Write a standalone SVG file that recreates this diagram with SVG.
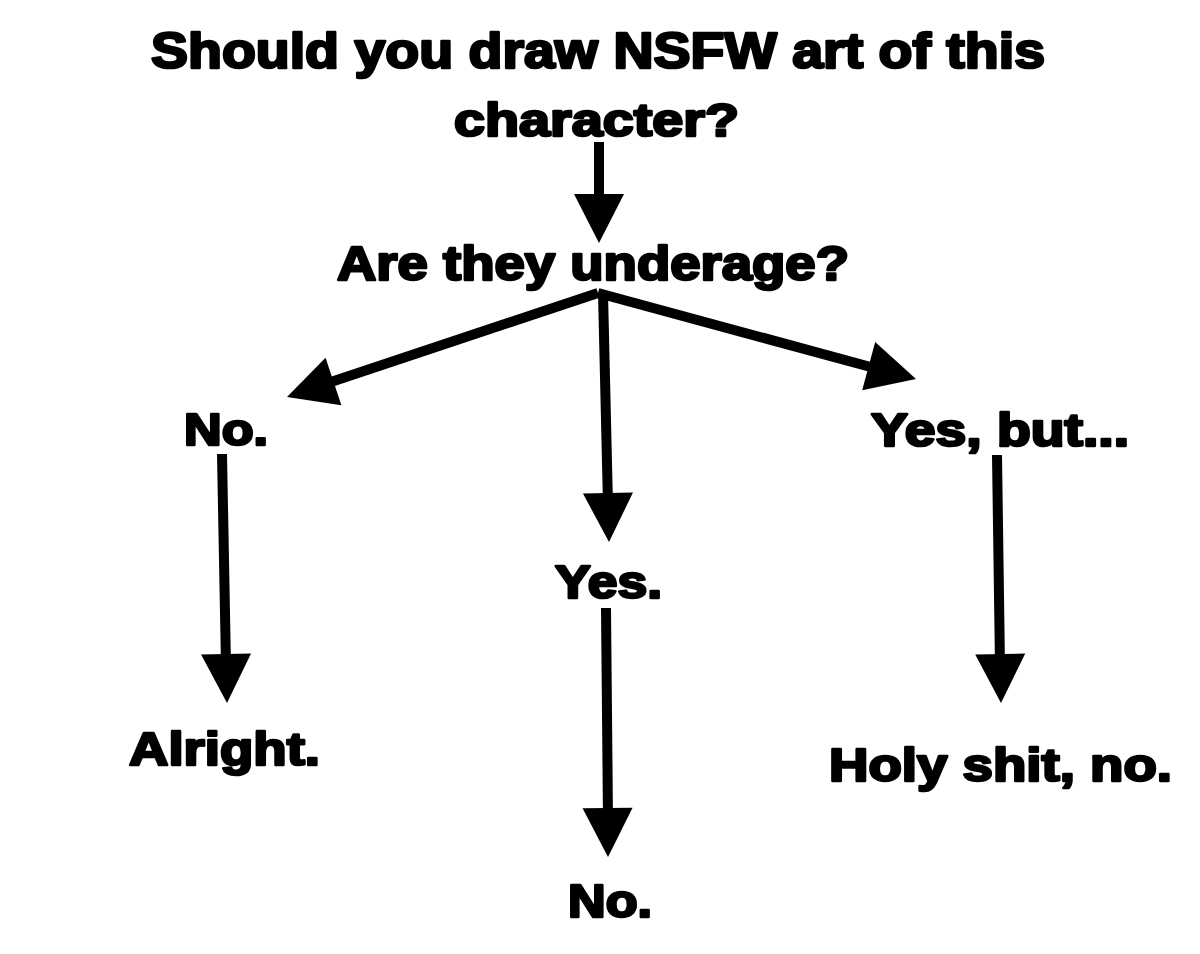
<svg xmlns="http://www.w3.org/2000/svg" width="1200" height="954" viewBox="0 0 1200 954">
<style>
.t{font-family:"Liberation Sans",Arial,sans-serif;font-weight:bold;fill:#000;stroke:#000;stroke-width:2.6;stroke-linejoin:round}
.s{stroke:#000;stroke-width:10;fill:none;stroke-linecap:butt}
</style>
<defs>
<path id="head" d="M0,0 L-49,-25 L-49,25 Z" fill="#000"/>
</defs>
<rect width="1200" height="954" fill="#fff"/>
<g id="connectors">
<line class="s" x1="599" y1="142" x2="599" y2="205"/>
<use href="#head" transform="translate(599,243) rotate(90)"/>
<line class="s" x1="598" y1="293" x2="325" y2="384"/>
<use href="#head" transform="translate(287,397) rotate(161.5)"/>
<line class="s" x1="598" y1="293" x2="878" y2="369"/>
<use href="#head" transform="translate(916,379) rotate(15.1)"/>
<line class="s" x1="603" y1="293" x2="608" y2="505"/>
<use href="#head" transform="translate(609,542) rotate(88.8)"/>
<line class="s" x1="606" y1="608" x2="608" y2="820"/>
<use href="#head" transform="translate(608,857) rotate(89.5)"/>
<line class="s" x1="222" y1="454" x2="226" y2="666"/>
<use href="#head" transform="translate(227,703) rotate(88.9)"/>
<line class="s" x1="997" y1="455" x2="1000" y2="666"/>
<use href="#head" transform="translate(1001,703) rotate(89.1)"/>
</g>
<g id="node-title">
<text class="t" x="151" y="68" font-size="50" textLength="894" lengthAdjust="spacingAndGlyphs">Should you draw NSFW art of this</text>
<text class="t" x="454" y="136" font-size="47" textLength="285" lengthAdjust="spacingAndGlyphs">character?</text>
</g>
<g id="node-underage">
<text class="t" x="337" y="280" font-size="48" textLength="512" lengthAdjust="spacingAndGlyphs">Are they underage?</text>
</g>
<g id="node-no-left">
<text class="t" x="184" y="445" font-size="45" textLength="84" lengthAdjust="spacingAndGlyphs">No.</text>
</g>
<g id="node-yes-but">
<text class="t" x="871" y="446" font-size="46" textLength="258" lengthAdjust="spacingAndGlyphs">Yes, but...</text>
</g>
<g id="node-yes">
<text class="t" x="555" y="598" font-size="46" textLength="107" lengthAdjust="spacingAndGlyphs">Yes.</text>
</g>
<g id="node-alright">
<text class="t" x="129" y="765" font-size="47" textLength="191" lengthAdjust="spacingAndGlyphs">Alright.</text>
</g>
<g id="node-holy">
<text class="t" x="829" y="781" font-size="47" textLength="343" lengthAdjust="spacingAndGlyphs">Holy shit, no.</text>
</g>
<g id="node-no-bottom">
<text class="t" x="568" y="917" font-size="46" textLength="84" lengthAdjust="spacingAndGlyphs">No.</text>
</g>
</svg>
